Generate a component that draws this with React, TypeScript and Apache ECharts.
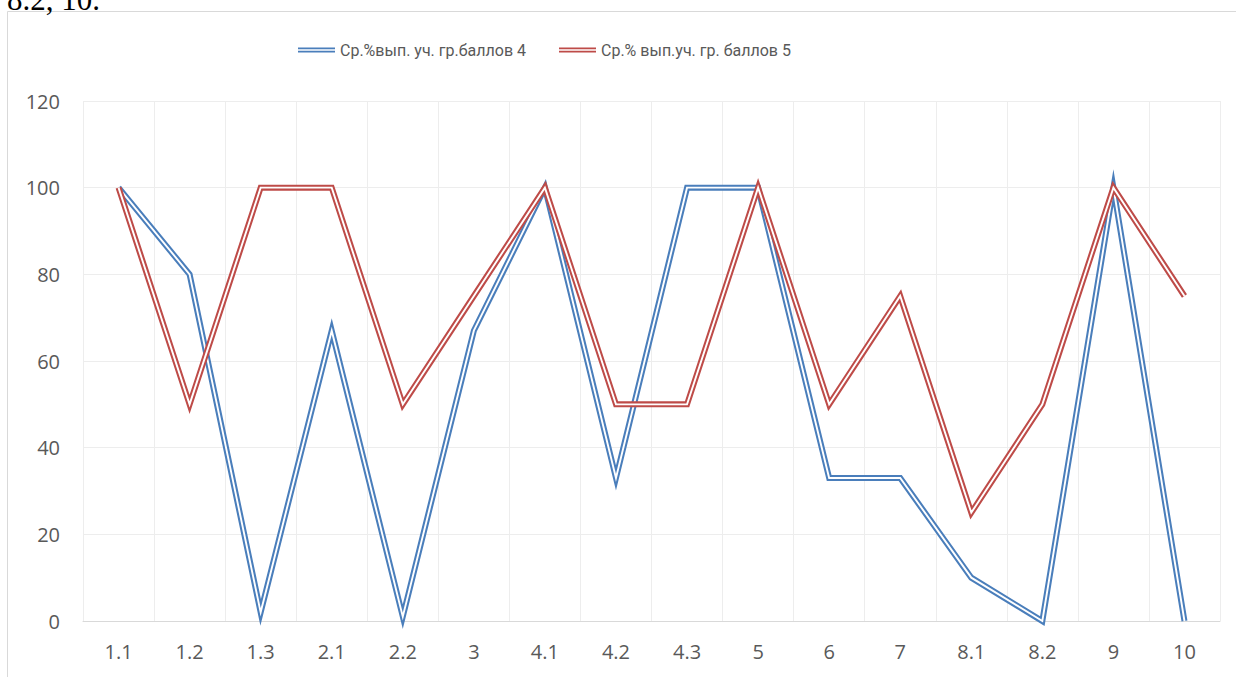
import React, { useEffect, useRef } from "react";
import * as echarts from "echarts";

const categories = ["1.1", "1.2", "1.3", "2.1", "2.2", "3", "4.1", "4.2", "4.3", "5", "6", "7", "8.1", "8.2", "9", "10"];
const series4 = [100, 80, 2, 67, 1, 67, 100, 33, 100, 100, 33, 33, 10, 0, 100, 0];
const series5 = [100, 50, 100, 100, 50, 75, 100, 50, 50, 100, 50, 75, 25, 50, 100, 75];
const name4 = "Ср.%вып. уч. гр.баллов 4";
const name5 = "Ср.% вып.уч. гр. баллов 5";
const yTicks = { min: 0, max: 120, interval: 20 };

const BLUE = "#4A7EBB";
const RED = "#BE4B48";
const GRAY = "#595959";
const FONT = "Open Sans";

export default function App() {
  const ref = useRef<HTMLDivElement>(null);
  useEffect(() => {
    if (!ref.current) return;
    const chart = echarts.init(ref.current, undefined, { renderer: "svg" });
    const mk = (name: string, data: number[], color: string, width: number) => ({
      name,
      type: "line",
      data,
      symbol: "none",
      clip: false,
      silent: true,
      lineStyle: { color, width, join: "miter", miterLimit: 20, cap: "butt" },
      itemStyle: { color },
      emphasis: { disabled: true },
    });
    chart.setOption({
      animation: false,
      backgroundColor: "#ffffff",
      graphic: [
        {
          type: "rect",
          shape: { x: 7.5, y: 11.5, width: 1400, height: 800 },
          style: { fill: "none", stroke: "#D9D9D9", lineWidth: 1 },
          silent: true,
        },
        {
          type: "text",
          x: 7,
          y: -1,
          style: {
            text: "8.2, 10.",
            font: "31px 'Liberation Serif', 'Times New Roman', serif",
            fill: "#000000",
            verticalAlign: "middle",
            align: "left",
          },
          silent: true,
        },
      ],
      legend: {
        left: 293,
        top: 37,
        data: [name4, name5],
        icon: "path://M0,0H40V1.8H0ZM0,3.4H40V5.2H0Z",
        itemWidth: 37,
        itemHeight: 5,
        itemGap: 33,
        textStyle: { color: GRAY, fontSize: 16, fontFamily: "Roboto" },
        selectedMode: false,
      },
      grid: { left: 83, right: 16, top: 101, bottom: 56, containLabel: false },
      xAxis: {
        type: "category",
        data: categories,
        boundaryGap: true,
        axisLine: { show: true, lineStyle: { color: "#D9D9D9", width: 1 } },
        axisTick: { show: false },
        axisLabel: { color: GRAY, fontSize: 20, fontFamily: FONT, margin: 20, interval: 0 },
        splitLine: { show: true, interval: 0, lineStyle: { color: "#EDEDED", width: 1 } },
      },
      yAxis: {
        type: "value",
        min: yTicks.min,
        max: yTicks.max,
        interval: yTicks.interval,
        axisLine: { show: false },
        axisTick: { show: false },
        axisLabel: { color: GRAY, fontSize: 20, fontFamily: FONT, margin: 23 },
        splitLine: { show: true, lineStyle: { color: "#EDEDED", width: 1 } },
      },
      series: [
        mk(name4, series4, BLUE, 6),
        mk("_w4", series4, "#ffffff", 1.9),
        mk(name5, series5, RED, 6),
        mk("_w5", series5, "#ffffff", 1.9),
      ],
    });
    return () => chart.dispose();
  }, []);
  return (
    <div
      ref={ref}
      style={{ position: "absolute", left: 0, top: 0, width: 1236, height: 677 }}
    />
  );
}
